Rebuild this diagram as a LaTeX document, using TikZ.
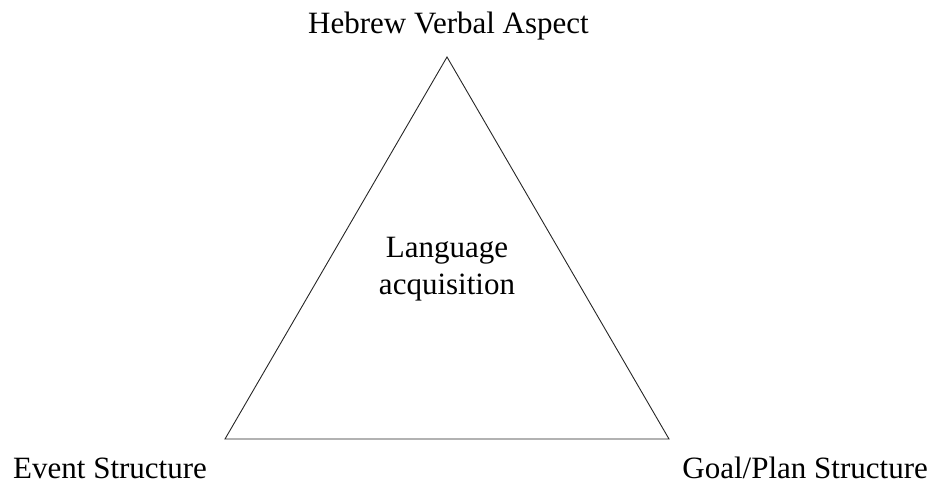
\documentclass[tikz,border=0pt]{standalone}
\usepackage{fontspec}
\setmainfont{Liberation Serif}
\usepackage{tikz}
\usetikzlibrary{positioning}

\begin{document}
\begin{tikzpicture}[x=1pt,y=1pt,
    corner/.style={font=\fontsize{31}{37}\selectfont,anchor=base,inner sep=0pt},
    side/.style={line width=0.9pt,black!85}]
  \useasboundingbox (0,0) rectangle (939,483);
  % the three corners of the triangle
  \coordinate (aspect) at (447,426);
  \coordinate (event) at (225,44);
  \coordinate (goal) at (669,44);
  \draw[side,line join=miter] (aspect) -- (event) -- (goal) -- cycle;
  % labels at the corners
  \node[corner] (aspectlbl) at (448.5,449.5) {Hebrew Verbal Aspect};
  \node[corner,anchor=base west] (eventlbl) at (13,5) {Event Structure};
  \node[corner,anchor=base east] (goallbl) at (928,5) {Goal/Plan Structure};
  \node[corner,anchor=center,align=center] (acq) at (447,213.4) {Language\\acquisition};
\end{tikzpicture}
\end{document}
